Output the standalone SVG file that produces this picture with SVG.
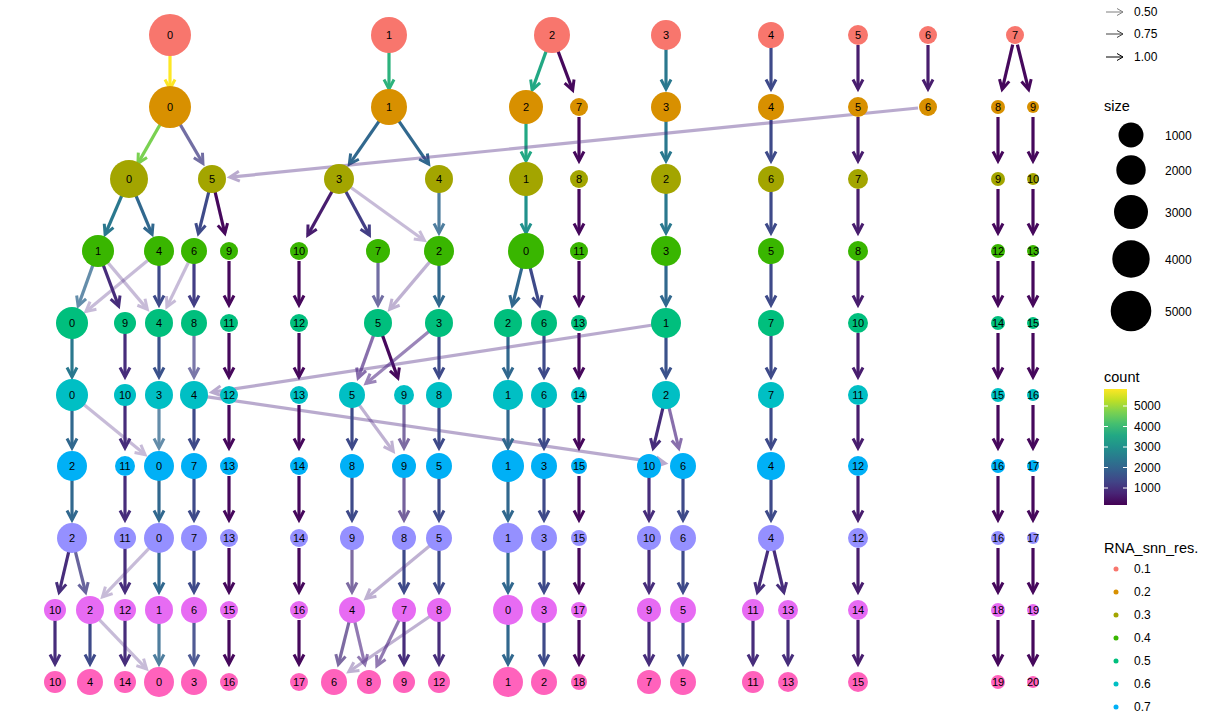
<svg xmlns="http://www.w3.org/2000/svg" width="1209" height="721" viewBox="0 0 1209 721">
<style>
text{font-family:"Liberation Sans",Arial,sans-serif;fill:#000}
.nl{font-size:11px;text-anchor:middle}
.lg{font-size:12px}
.lt{font-size:14.5px}
line{stroke-width:3.2;fill:none}
.a{stroke:#FDE725;marker-end:url(#ma)}
.b{stroke:#7AD151;marker-end:url(#mb)}
.c{stroke:#2DB27D;marker-end:url(#mc)}
.d{stroke:#22A884;marker-end:url(#md)}
.f{stroke:#21918C;marker-end:url(#mf)}
.g{stroke:#2A788E;marker-end:url(#mg)}
.h{stroke:#31688E;marker-end:url(#mh)}
.i{stroke:#3B528B;marker-end:url(#mi)}
.j{stroke:#3E4A89;marker-end:url(#mj)}
.k{stroke:#433E85;marker-end:url(#mk)}
.l{stroke:#472D7B;marker-end:url(#ml)}
.q{stroke:#4A2380;marker-end:url(#mq)}
.n{stroke:#481D6E;marker-end:url(#mn)}
.o{stroke:#46085C;marker-end:url(#mo)}
.r1{fill:#F8766D}.r2{fill:#D89000}.r3{fill:#A3A500}.r4{fill:#39B600}.r5{fill:#00BF7D}
.r6{fill:#00BFC4}.r7{fill:#00B0F6}.r8{fill:#9590FF}.r9{fill:#E76BF3}.r10{fill:#FF62BC}
</style>
<defs>
<marker id="ma" viewBox="-11 -8 16 16" markerWidth="16" markerHeight="16" markerUnits="userSpaceOnUse" orient="auto" refX="0" refY="0" overflow="visible"><path d="M-9,-5 L0.5,0 L-9,5" fill="none" stroke="#FDE725" stroke-width="3"/></marker>
<marker id="mb" viewBox="-11 -8 16 16" markerWidth="16" markerHeight="16" markerUnits="userSpaceOnUse" orient="auto" refX="0" refY="0" overflow="visible"><path d="M-9,-5 L0.5,0 L-9,5" fill="none" stroke="#7AD151" stroke-width="3"/></marker>
<marker id="mc" viewBox="-11 -8 16 16" markerWidth="16" markerHeight="16" markerUnits="userSpaceOnUse" orient="auto" refX="0" refY="0" overflow="visible"><path d="M-9,-5 L0.5,0 L-9,5" fill="none" stroke="#2DB27D" stroke-width="3"/></marker>
<marker id="md" viewBox="-11 -8 16 16" markerWidth="16" markerHeight="16" markerUnits="userSpaceOnUse" orient="auto" refX="0" refY="0" overflow="visible"><path d="M-9,-5 L0.5,0 L-9,5" fill="none" stroke="#22A884" stroke-width="3"/></marker>
<marker id="mf" viewBox="-11 -8 16 16" markerWidth="16" markerHeight="16" markerUnits="userSpaceOnUse" orient="auto" refX="0" refY="0" overflow="visible"><path d="M-9,-5 L0.5,0 L-9,5" fill="none" stroke="#21918C" stroke-width="3"/></marker>
<marker id="mg" viewBox="-11 -8 16 16" markerWidth="16" markerHeight="16" markerUnits="userSpaceOnUse" orient="auto" refX="0" refY="0" overflow="visible"><path d="M-9,-5 L0.5,0 L-9,5" fill="none" stroke="#2A788E" stroke-width="3"/></marker>
<marker id="mh" viewBox="-11 -8 16 16" markerWidth="16" markerHeight="16" markerUnits="userSpaceOnUse" orient="auto" refX="0" refY="0" overflow="visible"><path d="M-9,-5 L0.5,0 L-9,5" fill="none" stroke="#31688E" stroke-width="3"/></marker>
<marker id="mi" viewBox="-11 -8 16 16" markerWidth="16" markerHeight="16" markerUnits="userSpaceOnUse" orient="auto" refX="0" refY="0" overflow="visible"><path d="M-9,-5 L0.5,0 L-9,5" fill="none" stroke="#3B528B" stroke-width="3"/></marker>
<marker id="mj" viewBox="-11 -8 16 16" markerWidth="16" markerHeight="16" markerUnits="userSpaceOnUse" orient="auto" refX="0" refY="0" overflow="visible"><path d="M-9,-5 L0.5,0 L-9,5" fill="none" stroke="#3E4A89" stroke-width="3"/></marker>
<marker id="mk" viewBox="-11 -8 16 16" markerWidth="16" markerHeight="16" markerUnits="userSpaceOnUse" orient="auto" refX="0" refY="0" overflow="visible"><path d="M-9,-5 L0.5,0 L-9,5" fill="none" stroke="#433E85" stroke-width="3"/></marker>
<marker id="ml" viewBox="-11 -8 16 16" markerWidth="16" markerHeight="16" markerUnits="userSpaceOnUse" orient="auto" refX="0" refY="0" overflow="visible"><path d="M-9,-5 L0.5,0 L-9,5" fill="none" stroke="#472D7B" stroke-width="3"/></marker>
<marker id="mq" viewBox="-11 -8 16 16" markerWidth="16" markerHeight="16" markerUnits="userSpaceOnUse" orient="auto" refX="0" refY="0" overflow="visible"><path d="M-9,-5 L0.5,0 L-9,5" fill="none" stroke="#4A2380" stroke-width="3"/></marker>
<marker id="mn" viewBox="-11 -8 16 16" markerWidth="16" markerHeight="16" markerUnits="userSpaceOnUse" orient="auto" refX="0" refY="0" overflow="visible"><path d="M-9,-5 L0.5,0 L-9,5" fill="none" stroke="#481D6E" stroke-width="3"/></marker>
<marker id="mo" viewBox="-11 -8 16 16" markerWidth="16" markerHeight="16" markerUnits="userSpaceOnUse" orient="auto" refX="0" refY="0" overflow="visible"><path d="M-9,-5 L0.5,0 L-9,5" fill="none" stroke="#46085C" stroke-width="3"/></marker>
<linearGradient id="vir" x1="0" y1="1" x2="0" y2="0">
<stop offset="0" stop-color="#440154"/><stop offset="0.1" stop-color="#482475"/><stop offset="0.2" stop-color="#414487"/><stop offset="0.3" stop-color="#355F8D"/><stop offset="0.4" stop-color="#2A788E"/><stop offset="0.5" stop-color="#21918C"/><stop offset="0.6" stop-color="#22A884"/><stop offset="0.7" stop-color="#44BF70"/><stop offset="0.8" stop-color="#7AD151"/><stop offset="0.9" stop-color="#BDDF26"/><stop offset="1" stop-color="#FDE725"/>
</linearGradient>
</defs>
<rect width="1209" height="721" fill="#fff"/>
<g id="edges">
<!-- 0.1 -> 0.2 -->
<line class="a" x1="170" y1="45" x2="170" y2="88.5"/>
<line class="c" x1="389" y1="45" x2="389" y2="88.5"/>
<line class="d" x1="548.6" y1="44.4" x2="532.3" y2="89.6"/>
<line class="o" x1="555.5" y1="44.4" x2="572.5" y2="89.7"/>
<line class="g" x1="666" y1="45" x2="666" y2="88.5"/>
<line class="j" x1="771" y1="45" x2="771" y2="88.5"/>
<line class="n" x1="858" y1="45" x2="858" y2="88.5"/>
<line class="n" x1="928" y1="45" x2="928" y2="88.5"/>
<line class="o" x1="1012.7" y1="44.7" x2="1002.3" y2="89"/>
<line class="o" x1="1017.4" y1="44.7" x2="1028.5" y2="89.1"/>
<!-- 0.2 -> 0.3 -->
<line class="b" x1="165.1" y1="115.7" x2="138.2" y2="162.9"/>
<g opacity="0.75"><line class="k" x1="175" y1="115.6" x2="202.7" y2="163"/></g>
<line class="h" x1="383.3" y1="115.2" x2="349.6" y2="163.8"/>
<line class="h" x1="394.7" y1="115.2" x2="428.4" y2="163.8"/>
<line class="d" x1="526" y1="117" x2="526" y2="160.5"/>
<line class="o" x1="579" y1="117" x2="579" y2="160.5"/>
<line class="g" x1="666" y1="117" x2="666" y2="160.5"/>
<line class="j" x1="771" y1="117" x2="771" y2="160.5"/>
<line class="n" x1="858" y1="117" x2="858" y2="160.5"/>
<g opacity="0.38"><line class="q" x1="918" y1="108" x2="230.4" y2="177.1"/></g>
<line class="o" x1="998" y1="117" x2="998" y2="160.5"/>
<line class="o" x1="1033" y1="117" x2="1033" y2="160.5"/>
<!-- 0.3 -> 0.4 -->
<line class="g" x1="125" y1="188.2" x2="105.3" y2="234"/>
<line class="h" x1="132.8" y1="188.2" x2="151.9" y2="233.9"/>
<line class="j" x1="209.6" y1="188.7" x2="198.5" y2="233.1"/>
<line class="o" x1="214.3" y1="188.7" x2="224.75" y2="233"/>
<line class="n" x1="334.1" y1="187.7" x2="308" y2="234.8"/>
<line class="k" x1="343.8" y1="187.8" x2="369.2" y2="234.7"/>
<g opacity="0.3"><line class="q" x1="347.1" y1="184.8" x2="424" y2="240.2"/></g>
<g opacity="0.85"><line class="h" x1="439" y1="189" x2="439" y2="232.5"/></g>
<line class="f" x1="526" y1="189" x2="526" y2="232.5"/>
<line class="o" x1="579" y1="189" x2="579" y2="232.5"/>
<line class="g" x1="666" y1="189" x2="666" y2="232.5"/>
<line class="j" x1="771" y1="189" x2="771" y2="232.5"/>
<line class="n" x1="858" y1="189" x2="858" y2="232.5"/>
<line class="o" x1="998" y1="189" x2="998" y2="232.5"/>
<line class="o" x1="1033" y1="189" x2="1033" y2="232.5"/>
<!-- 0.4 -> 0.5 -->
<g opacity="0.75"><line class="h" x1="94.6" y1="260.4" x2="78.3" y2="305.6"/></g>
<line class="l" x1="101.5" y1="260.4" x2="118.5" y2="305.7"/>
<g opacity="0.3"><line class="q" x1="104.5" y1="258.6" x2="147" y2="308.9"/></g>
<g opacity="0.3"><line class="q" x1="151.3" y1="257.4" x2="86.3" y2="311.2"/></g>
<line class="j" x1="159" y1="261" x2="159" y2="304.5"/>
<g opacity="0.3"><line class="q" x1="189.6" y1="260" x2="167.1" y2="306.4"/></g>
<line class="k" x1="194" y1="261" x2="194" y2="304.5"/>
<line class="o" x1="229" y1="261" x2="229" y2="304.5"/>
<line class="o" x1="299" y1="261" x2="299" y2="304.5"/>
<g opacity="0.75"><line class="k" x1="378" y1="261" x2="378" y2="304.5"/></g>
<g opacity="0.35"><line class="q" x1="432.5" y1="258.6" x2="390" y2="308.9"/></g>
<line class="h" x1="439" y1="261" x2="439" y2="304.5"/>
<line class="h" x1="523.6" y1="260.7" x2="512.5" y2="305.1"/>
<line class="j" x1="528.4" y1="260.7" x2="539.5" y2="305.1"/>
<line class="o" x1="579" y1="261" x2="579" y2="304.5"/>
<line class="h" x1="666" y1="261" x2="666" y2="304.5"/>
<line class="j" x1="771" y1="261" x2="771" y2="304.5"/>
<line class="n" x1="858" y1="261" x2="858" y2="304.5"/>
<line class="o" x1="998" y1="261" x2="998" y2="304.5"/>
<line class="o" x1="1033" y1="261" x2="1033" y2="304.5"/>
<!-- 0.5 -> 0.6 -->
<line class="g" x1="72" y1="333" x2="72" y2="376.5"/>
<line class="l" x1="125" y1="333" x2="125" y2="376.5"/>
<line class="i" x1="159" y1="333" x2="159" y2="376.5"/>
<g opacity="0.7"><line class="k" x1="194" y1="333" x2="194" y2="376.5"/></g>
<line class="o" x1="229" y1="333" x2="229" y2="376.5"/>
<line class="o" x1="299" y1="333" x2="299" y2="376.5"/>
<g opacity="0.65"><line class="q" x1="374.6" y1="332.4" x2="358.3" y2="377.6"/></g>
<line class="o" x1="381.4" y1="332.4" x2="397.7" y2="377.6"/>
<g opacity="0.55"><line class="q" x1="431.3" y1="329.4" x2="366.3" y2="383.2"/></g>
<line class="j" x1="439" y1="333" x2="439" y2="376.5"/>
<line class="h" x1="508" y1="333" x2="508" y2="376.5"/>
<line class="j" x1="544" y1="333" x2="544" y2="376.5"/>
<line class="o" x1="579" y1="333" x2="579" y2="376.5"/>
<g opacity="0.38"><line class="q" x1="656.1" y1="324.5" x2="212.3" y2="392.2"/></g>
<line class="i" x1="666" y1="333" x2="666" y2="376.5"/>
<line class="j" x1="771" y1="333" x2="771" y2="376.5"/>
<line class="n" x1="858" y1="333" x2="858" y2="376.5"/>
<line class="o" x1="998" y1="333" x2="998" y2="376.5"/>
<line class="o" x1="1033" y1="333" x2="1033" y2="376.5"/>
<!-- 0.6 -> 0.7 -->
<line class="h" x1="72" y1="405" x2="72" y2="447.5"/>
<g opacity="0.3"><line class="q" x1="79.8" y1="401.3" x2="144.7" y2="454.3"/></g>
<line class="l" x1="125" y1="405" x2="125" y2="447.5"/>
<g opacity="0.75"><line class="h" x1="159" y1="405" x2="159" y2="447.5"/></g>
<line class="j" x1="194" y1="405" x2="194" y2="447.5"/>
<g opacity="0.38"><line class="q" x1="203.9" y1="396.4" x2="664.7" y2="463.3"/></g>
<line class="o" x1="229" y1="405" x2="229" y2="447.5"/>
<line class="o" x1="299" y1="405" x2="299" y2="447.5"/>
<line class="j" x1="352" y1="405" x2="352" y2="447.5"/>
<g opacity="0.35"><line class="q" x1="357.9" y1="403.1" x2="393" y2="451"/></g>
<g opacity="0.7"><line class="l" x1="404" y1="405" x2="404" y2="447.5"/></g>
<line class="j" x1="439" y1="405" x2="439" y2="447.5"/>
<line class="h" x1="508" y1="405" x2="508" y2="447.5"/>
<line class="j" x1="544" y1="405" x2="544" y2="447.5"/>
<line class="o" x1="579" y1="405" x2="579" y2="447.5"/>
<line class="l" x1="663.7" y1="404.7" x2="653.3" y2="448"/>
<g opacity="0.65"><line class="q" x1="668.3" y1="404.7" x2="678.7" y2="448"/></g>
<line class="j" x1="771" y1="405" x2="771" y2="447.5"/>
<line class="n" x1="858" y1="405" x2="858" y2="447.5"/>
<line class="o" x1="998" y1="405" x2="998" y2="447.5"/>
<line class="o" x1="1033" y1="405" x2="1033" y2="447.5"/>
<!-- 0.7 -> 0.8 -->
<line class="h" x1="72" y1="476" x2="72" y2="519.5"/>
<line class="l" x1="125" y1="476" x2="125" y2="519.5"/>
<line class="h" x1="159" y1="476" x2="159" y2="519.5"/>
<line class="j" x1="194" y1="476" x2="194" y2="519.5"/>
<line class="o" x1="229" y1="476" x2="229" y2="519.5"/>
<line class="o" x1="299" y1="476" x2="299" y2="519.5"/>
<line class="j" x1="352" y1="476" x2="352" y2="519.5"/>
<g opacity="0.75"><line class="l" x1="404" y1="476" x2="404" y2="519.5"/></g>
<line class="j" x1="439" y1="476" x2="439" y2="519.5"/>
<line class="h" x1="508" y1="476" x2="508" y2="519.5"/>
<line class="j" x1="544" y1="476" x2="544" y2="519.5"/>
<line class="o" x1="579" y1="476" x2="579" y2="519.5"/>
<line class="l" x1="649" y1="476" x2="649" y2="519.5"/>
<line class="j" x1="683" y1="476" x2="683" y2="519.5"/>
<line class="j" x1="771" y1="476" x2="771" y2="519.5"/>
<line class="n" x1="858" y1="476" x2="858" y2="519.5"/>
<line class="o" x1="998" y1="476" x2="998" y2="519.5"/>
<line class="o" x1="1033" y1="476" x2="1033" y2="519.5"/>
<!-- 0.8 -> 0.9 -->
<line class="l" x1="69.7" y1="547.7" x2="59.25" y2="592"/>
<g opacity="0.8"><line class="k" x1="74.4" y1="547.7" x2="85.5" y2="592"/></g>
<line class="l" x1="125" y1="548" x2="125" y2="591.5"/>
<g opacity="0.3"><line class="q" x1="152.1" y1="545.2" x2="102.8" y2="596.6"/></g>
<line class="h" x1="159" y1="548" x2="159" y2="591.5"/>
<line class="j" x1="194" y1="548" x2="194" y2="591.5"/>
<line class="o" x1="229" y1="548" x2="229" y2="591.5"/>
<line class="o" x1="299" y1="548" x2="299" y2="591.5"/>
<g opacity="0.7"><line class="l" x1="352" y1="548" x2="352" y2="591.5"/></g>
<line class="j" x1="404" y1="548" x2="404" y2="591.5"/>
<g opacity="0.35"><line class="q" x1="431.3" y1="544.4" x2="366.3" y2="598.2"/></g>
<line class="j" x1="439" y1="548" x2="439" y2="591.5"/>
<line class="h" x1="508" y1="548" x2="508" y2="591.5"/>
<line class="j" x1="544" y1="548" x2="544" y2="591.5"/>
<line class="o" x1="579" y1="548" x2="579" y2="591.5"/>
<line class="l" x1="649" y1="548" x2="649" y2="591.5"/>
<line class="j" x1="683" y1="548" x2="683" y2="591.5"/>
<line class="l" x1="768.6" y1="547.7" x2="757.5" y2="592"/>
<line class="l" x1="773.3" y1="547.7" x2="783.75" y2="592"/>
<line class="n" x1="858" y1="548" x2="858" y2="591.5"/>
<line class="o" x1="998" y1="548" x2="998" y2="591.5"/>
<line class="o" x1="1033" y1="548" x2="1033" y2="591.5"/>
<!-- 0.9 -> 1.0 -->
<line class="l" x1="55" y1="620" x2="55" y2="663.5"/>
<line class="j" x1="90" y1="620" x2="90" y2="663.5"/>
<line class="l" x1="125" y1="620" x2="125" y2="663.5"/>
<g opacity="0.3"><line class="q" x1="96.9" y1="617.2" x2="146.2" y2="668.6"/></g>
<g opacity="0.85"><line class="h" x1="159" y1="620" x2="159" y2="663.5"/></g>
<g opacity="0.9"><line class="j" x1="194" y1="620" x2="194" y2="663.5"/></g>
<line class="o" x1="229" y1="620" x2="229" y2="663.5"/>
<line class="o" x1="299" y1="620" x2="299" y2="663.5"/>
<g opacity="0.7"><line class="l" x1="349.6" y1="619.7" x2="338.5" y2="664"/></g>
<g opacity="0.6"><line class="q" x1="354.3" y1="619.7" x2="364.75" y2="664"/></g>
<g opacity="0.6"><line class="q" x1="399.6" y1="619" x2="377.1" y2="665.4"/></g>
<line class="l" x1="404" y1="620" x2="404" y2="663.5"/>
<g opacity="0.35"><line class="q" x1="430.8" y1="615.7" x2="349.2" y2="671.5"/></g>
<line class="l" x1="439" y1="620" x2="439" y2="663.5"/>
<line class="h" x1="508" y1="620" x2="508" y2="663.5"/>
<line class="j" x1="544" y1="620" x2="544" y2="663.5"/>
<line class="o" x1="579" y1="620" x2="579" y2="663.5"/>
<line class="l" x1="649" y1="620" x2="649" y2="663.5"/>
<line class="j" x1="683" y1="620" x2="683" y2="663.5"/>
<line class="l" x1="753" y1="620" x2="753" y2="663.5"/>
<line class="l" x1="788" y1="620" x2="788" y2="663.5"/>
<line class="n" x1="858" y1="620" x2="858" y2="663.5"/>
<line class="o" x1="998" y1="620" x2="998" y2="663.5"/>
<line class="o" x1="1033" y1="620" x2="1033" y2="663.5"/>
</g>
<g id="nodes">
<!-- res 0.1 -->
<g id="r1c0"><circle class="r1" cx="170" cy="35" r="21"/><text class="nl" x="170" y="39">0</text></g>
<g id="r1c1"><circle class="r1" cx="389" cy="35" r="18"/><text class="nl" x="389" y="39">1</text></g>
<g id="r1c2"><circle class="r1" cx="552" cy="35" r="18"/><text class="nl" x="552" y="39">2</text></g>
<g id="r1c3"><circle class="r1" cx="666" cy="35" r="15"/><text class="nl" x="666" y="39">3</text></g>
<g id="r1c4"><circle class="r1" cx="771" cy="35" r="13"/><text class="nl" x="771" y="39">4</text></g>
<g id="r1c5"><circle class="r1" cx="858" cy="35" r="10"/><text class="nl" x="858" y="39">5</text></g>
<g id="r1c6"><circle class="r1" cx="928" cy="35" r="9"/><text class="nl" x="928" y="39">6</text></g>
<g id="r1c7"><circle class="r1" cx="1015" cy="35" r="9"/><text class="nl" x="1015" y="39">7</text></g>
<!-- res 0.2 -->
<g id="r2c0"><circle class="r2" cx="170" cy="107" r="21"/><text class="nl" x="170" y="111">0</text></g>
<g id="r2c1"><circle class="r2" cx="389" cy="107" r="18"/><text class="nl" x="389" y="111">1</text></g>
<g id="r2c2"><circle class="r2" cx="526" cy="107" r="17"/><text class="nl" x="526" y="111">2</text></g>
<g id="r2c7"><circle class="r2" cx="579" cy="107" r="9"/><text class="nl" x="579" y="111">7</text></g>
<g id="r2c3"><circle class="r2" cx="666" cy="107" r="15"/><text class="nl" x="666" y="111">3</text></g>
<g id="r2c4"><circle class="r2" cx="771" cy="107" r="13"/><text class="nl" x="771" y="111">4</text></g>
<g id="r2c5"><circle class="r2" cx="858" cy="107" r="10"/><text class="nl" x="858" y="111">5</text></g>
<g id="r2c6"><circle class="r2" cx="928" cy="107" r="9"/><text class="nl" x="928" y="111">6</text></g>
<g id="r2c8"><circle class="r2" cx="998" cy="107" r="7"/><text class="nl" x="998" y="111">8</text></g>
<g id="r2c9"><circle class="r2" cx="1033" cy="107" r="6"/><text class="nl" x="1033" y="111">9</text></g>
<!-- res 0.3 -->
<g id="r3c0"><circle class="r3" cx="129" cy="179" r="19"/><text class="nl" x="129" y="183">0</text></g>
<g id="r3c5"><circle class="r3" cx="212" cy="179" r="14"/><text class="nl" x="212" y="183">5</text></g>
<g id="r3c3"><circle class="r3" cx="339" cy="179" r="15"/><text class="nl" x="339" y="183">3</text></g>
<g id="r3c4"><circle class="r3" cx="439" cy="179" r="14"/><text class="nl" x="439" y="183">4</text></g>
<g id="r3c1"><circle class="r3" cx="526" cy="179" r="17"/><text class="nl" x="526" y="183">1</text></g>
<g id="r3c8"><circle class="r3" cx="579" cy="179" r="9"/><text class="nl" x="579" y="183">8</text></g>
<g id="r3c2"><circle class="r3" cx="666" cy="179" r="15"/><text class="nl" x="666" y="183">2</text></g>
<g id="r3c6"><circle class="r3" cx="771" cy="179" r="13"/><text class="nl" x="771" y="183">6</text></g>
<g id="r3c7"><circle class="r3" cx="858" cy="179" r="10"/><text class="nl" x="858" y="183">7</text></g>
<g id="r3c9"><circle class="r3" cx="998" cy="179" r="7"/><text class="nl" x="998" y="183">9</text></g>
<g id="r3c10"><circle class="r3" cx="1033" cy="179" r="6"/><text class="nl" x="1033" y="183">10</text></g>
<!-- res 0.4 -->
<g id="r4c1"><circle class="r4" cx="98" cy="251" r="16"/><text class="nl" x="98" y="255">1</text></g>
<g id="r4c4"><circle class="r4" cx="159" cy="251" r="15"/><text class="nl" x="159" y="255">4</text></g>
<g id="r4c6"><circle class="r4" cx="194" cy="251" r="13"/><text class="nl" x="194" y="255">6</text></g>
<g id="r4c9"><circle class="r4" cx="229" cy="251" r="9"/><text class="nl" x="229" y="255">9</text></g>
<g id="r4c10"><circle class="r4" cx="299" cy="251" r="9"/><text class="nl" x="299" y="255">10</text></g>
<g id="r4c7"><circle class="r4" cx="378" cy="251" r="12"/><text class="nl" x="378" y="255">7</text></g>
<g id="r4c2"><circle class="r4" cx="439" cy="251" r="15"/><text class="nl" x="439" y="255">2</text></g>
<g id="r4c0"><circle class="r4" cx="526" cy="251" r="18"/><text class="nl" x="526" y="255">0</text></g>
<g id="r4c11"><circle class="r4" cx="579" cy="251" r="9"/><text class="nl" x="579" y="255">11</text></g>
<g id="r4c3"><circle class="r4" cx="666" cy="251" r="15"/><text class="nl" x="666" y="255">3</text></g>
<g id="r4c5"><circle class="r4" cx="771" cy="251" r="13"/><text class="nl" x="771" y="255">5</text></g>
<g id="r4c8"><circle class="r4" cx="858" cy="251" r="10"/><text class="nl" x="858" y="255">8</text></g>
<g id="r4c12"><circle class="r4" cx="998" cy="251" r="7"/><text class="nl" x="998" y="255">12</text></g>
<g id="r4c13"><circle class="r4" cx="1033" cy="251" r="6"/><text class="nl" x="1033" y="255">13</text></g>
<!-- res 0.5 -->
<g id="r5c0"><circle class="r5" cx="72" cy="323" r="16"/><text class="nl" x="72" y="327">0</text></g>
<g id="r5c9"><circle class="r5" cx="125" cy="323" r="11"/><text class="nl" x="125" y="327">9</text></g>
<g id="r5c4"><circle class="r5" cx="159" cy="323" r="14"/><text class="nl" x="159" y="327">4</text></g>
<g id="r5c8"><circle class="r5" cx="194" cy="323" r="13"/><text class="nl" x="194" y="327">8</text></g>
<g id="r5c11"><circle class="r5" cx="229" cy="323" r="9"/><text class="nl" x="229" y="327">11</text></g>
<g id="r5c12"><circle class="r5" cx="299" cy="323" r="9"/><text class="nl" x="299" y="327">12</text></g>
<g id="r5c5"><circle class="r5" cx="378" cy="323" r="14"/><text class="nl" x="378" y="327">5</text></g>
<g id="r5c3"><circle class="r5" cx="439" cy="323" r="14"/><text class="nl" x="439" y="327">3</text></g>
<g id="r5c2"><circle class="r5" cx="508" cy="323" r="14"/><text class="nl" x="508" y="327">2</text></g>
<g id="r5c6"><circle class="r5" cx="544" cy="323" r="13"/><text class="nl" x="544" y="327">6</text></g>
<g id="r5c13"><circle class="r5" cx="579" cy="323" r="8"/><text class="nl" x="579" y="327">13</text></g>
<g id="r5c1"><circle class="r5" cx="666" cy="323" r="15"/><text class="nl" x="666" y="327">1</text></g>
<g id="r5c7"><circle class="r5" cx="771" cy="323" r="13"/><text class="nl" x="771" y="327">7</text></g>
<g id="r5c10"><circle class="r5" cx="858" cy="323" r="10"/><text class="nl" x="858" y="327">10</text></g>
<g id="r5c14"><circle class="r5" cx="998" cy="323" r="7"/><text class="nl" x="998" y="327">14</text></g>
<g id="r5c15"><circle class="r5" cx="1033" cy="323" r="6"/><text class="nl" x="1033" y="327">15</text></g>
<!-- res 0.6 -->
<g id="r6c0"><circle class="r6" cx="72" cy="395" r="16"/><text class="nl" x="72" y="399">0</text></g>
<g id="r6c10"><circle class="r6" cx="125" cy="395" r="11"/><text class="nl" x="125" y="399">10</text></g>
<g id="r6c3"><circle class="r6" cx="159" cy="395" r="14"/><text class="nl" x="159" y="399">3</text></g>
<g id="r6c4"><circle class="r6" cx="194" cy="395" r="14"/><text class="nl" x="194" y="399">4</text></g>
<g id="r6c12"><circle class="r6" cx="229" cy="395" r="9"/><text class="nl" x="229" y="399">12</text></g>
<g id="r6c13"><circle class="r6" cx="299" cy="395" r="9"/><text class="nl" x="299" y="399">13</text></g>
<g id="r6c5"><circle class="r6" cx="352" cy="395" r="13"/><text class="nl" x="352" y="399">5</text></g>
<g id="r6c9"><circle class="r6" cx="404" cy="395" r="10"/><text class="nl" x="404" y="399">9</text></g>
<g id="r6c8"><circle class="r6" cx="439" cy="395" r="13"/><text class="nl" x="439" y="399">8</text></g>
<g id="r6c1"><circle class="r6" cx="508" cy="395" r="15"/><text class="nl" x="508" y="399">1</text></g>
<g id="r6c6"><circle class="r6" cx="544" cy="395" r="13"/><text class="nl" x="544" y="399">6</text></g>
<g id="r6c14"><circle class="r6" cx="579" cy="395" r="8"/><text class="nl" x="579" y="399">14</text></g>
<g id="r6c2"><circle class="r6" cx="666" cy="395" r="14"/><text class="nl" x="666" y="399">2</text></g>
<g id="r6c7"><circle class="r6" cx="771" cy="395" r="13"/><text class="nl" x="771" y="399">7</text></g>
<g id="r6c11"><circle class="r6" cx="858" cy="395" r="10"/><text class="nl" x="858" y="399">11</text></g>
<g id="r6c15"><circle class="r6" cx="998" cy="395" r="7"/><text class="nl" x="998" y="399">15</text></g>
<g id="r6c16"><circle class="r6" cx="1033" cy="395" r="6"/><text class="nl" x="1033" y="399">16</text></g>
<!-- res 0.7 -->
<g id="r7c2"><circle class="r7" cx="72" cy="466" r="15"/><text class="nl" x="72" y="470">2</text></g>
<g id="r7c11"><circle class="r7" cx="125" cy="466" r="10"/><text class="nl" x="125" y="470">11</text></g>
<g id="r7c0"><circle class="r7" cx="159" cy="466" r="15"/><text class="nl" x="159" y="470">0</text></g>
<g id="r7c7"><circle class="r7" cx="194" cy="466" r="13"/><text class="nl" x="194" y="470">7</text></g>
<g id="r7c13"><circle class="r7" cx="229" cy="466" r="9"/><text class="nl" x="229" y="470">13</text></g>
<g id="r7c14"><circle class="r7" cx="299" cy="466" r="9"/><text class="nl" x="299" y="470">14</text></g>
<g id="r7c8"><circle class="r7" cx="352" cy="466" r="12"/><text class="nl" x="352" y="470">8</text></g>
<g id="r7c9"><circle class="r7" cx="404" cy="466" r="12"/><text class="nl" x="404" y="470">9</text></g>
<g id="r7c5"><circle class="r7" cx="439" cy="466" r="13"/><text class="nl" x="439" y="470">5</text></g>
<g id="r7c1"><circle class="r7" cx="508" cy="466" r="16"/><text class="nl" x="508" y="470">1</text></g>
<g id="r7c3"><circle class="r7" cx="544" cy="466" r="13"/><text class="nl" x="544" y="470">3</text></g>
<g id="r7c15"><circle class="r7" cx="579" cy="466" r="8"/><text class="nl" x="579" y="470">15</text></g>
<g id="r7c10"><circle class="r7" cx="649" cy="466" r="12"/><text class="nl" x="649" y="470">10</text></g>
<g id="r7c6"><circle class="r7" cx="683" cy="466" r="13"/><text class="nl" x="683" y="470">6</text></g>
<g id="r7c4"><circle class="r7" cx="771" cy="466" r="14"/><text class="nl" x="771" y="470">4</text></g>
<g id="r7c12"><circle class="r7" cx="858" cy="466" r="10"/><text class="nl" x="858" y="470">12</text></g>
<g id="r7c16"><circle class="r7" cx="998" cy="466" r="7"/><text class="nl" x="998" y="470">16</text></g>
<g id="r7c17"><circle class="r7" cx="1033" cy="466" r="6"/><text class="nl" x="1033" y="470">17</text></g>
<!-- res 0.8 -->
<g id="r8c2"><circle class="r8" cx="72" cy="538" r="15"/><text class="nl" x="72" y="542">2</text></g>
<g id="r8c11"><circle class="r8" cx="125" cy="538" r="11"/><text class="nl" x="125" y="542">11</text></g>
<g id="r8c0"><circle class="r8" cx="159" cy="538" r="15"/><text class="nl" x="159" y="542">0</text></g>
<g id="r8c7"><circle class="r8" cx="194" cy="538" r="13"/><text class="nl" x="194" y="542">7</text></g>
<g id="r8c13"><circle class="r8" cx="229" cy="538" r="9"/><text class="nl" x="229" y="542">13</text></g>
<g id="r8c14"><circle class="r8" cx="299" cy="538" r="9"/><text class="nl" x="299" y="542">14</text></g>
<g id="r8c9"><circle class="r8" cx="352" cy="538" r="12"/><text class="nl" x="352" y="542">9</text></g>
<g id="r8c8"><circle class="r8" cx="404" cy="538" r="12"/><text class="nl" x="404" y="542">8</text></g>
<g id="r8c5"><circle class="r8" cx="439" cy="538" r="13"/><text class="nl" x="439" y="542">5</text></g>
<g id="r8c1"><circle class="r8" cx="508" cy="538" r="15"/><text class="nl" x="508" y="542">1</text></g>
<g id="r8c3"><circle class="r8" cx="544" cy="538" r="13"/><text class="nl" x="544" y="542">3</text></g>
<g id="r8c15"><circle class="r8" cx="579" cy="538" r="8"/><text class="nl" x="579" y="542">15</text></g>
<g id="r8c10"><circle class="r8" cx="649" cy="538" r="12"/><text class="nl" x="649" y="542">10</text></g>
<g id="r8c6"><circle class="r8" cx="683" cy="538" r="13"/><text class="nl" x="683" y="542">6</text></g>
<g id="r8c4"><circle class="r8" cx="771" cy="538" r="13"/><text class="nl" x="771" y="542">4</text></g>
<g id="r8c12"><circle class="r8" cx="858" cy="538" r="10"/><text class="nl" x="858" y="542">12</text></g>
<g id="r8c16"><circle class="r8" cx="998" cy="538" r="7"/><text class="nl" x="998" y="542">16</text></g>
<g id="r8c17"><circle class="r8" cx="1033" cy="538" r="6"/><text class="nl" x="1033" y="542">17</text></g>
<!-- res 0.9 -->
<g id="r9c10"><circle class="r9" cx="55" cy="610" r="11"/><text class="nl" x="55" y="614">10</text></g>
<g id="r9c2"><circle class="r9" cx="90" cy="610" r="14"/><text class="nl" x="90" y="614">2</text></g>
<g id="r9c12"><circle class="r9" cx="125" cy="610" r="11"/><text class="nl" x="125" y="614">12</text></g>
<g id="r9c1"><circle class="r9" cx="159" cy="610" r="14"/><text class="nl" x="159" y="614">1</text></g>
<g id="r9c6"><circle class="r9" cx="194" cy="610" r="13"/><text class="nl" x="194" y="614">6</text></g>
<g id="r9c15"><circle class="r9" cx="229" cy="610" r="9"/><text class="nl" x="229" y="614">15</text></g>
<g id="r9c16"><circle class="r9" cx="299" cy="610" r="9"/><text class="nl" x="299" y="614">16</text></g>
<g id="r9c4"><circle class="r9" cx="352" cy="610" r="13"/><text class="nl" x="352" y="614">4</text></g>
<g id="r9c7"><circle class="r9" cx="404" cy="610" r="12"/><text class="nl" x="404" y="614">7</text></g>
<g id="r9c8"><circle class="r9" cx="439" cy="610" r="12"/><text class="nl" x="439" y="614">8</text></g>
<g id="r9c0"><circle class="r9" cx="508" cy="610" r="15"/><text class="nl" x="508" y="614">0</text></g>
<g id="r9c3"><circle class="r9" cx="544" cy="610" r="13"/><text class="nl" x="544" y="614">3</text></g>
<g id="r9c17"><circle class="r9" cx="579" cy="610" r="8"/><text class="nl" x="579" y="614">17</text></g>
<g id="r9c9"><circle class="r9" cx="649" cy="610" r="12"/><text class="nl" x="649" y="614">9</text></g>
<g id="r9c5"><circle class="r9" cx="683" cy="610" r="13"/><text class="nl" x="683" y="614">5</text></g>
<g id="r9c11"><circle class="r9" cx="753" cy="610" r="11"/><text class="nl" x="753" y="614">11</text></g>
<g id="r9c13"><circle class="r9" cx="788" cy="610" r="10"/><text class="nl" x="788" y="614">13</text></g>
<g id="r9c14"><circle class="r9" cx="858" cy="610" r="10"/><text class="nl" x="858" y="614">14</text></g>
<g id="r9c18"><circle class="r9" cx="998" cy="610" r="7"/><text class="nl" x="998" y="614">18</text></g>
<g id="r9c19"><circle class="r9" cx="1033" cy="610" r="6"/><text class="nl" x="1033" y="614">19</text></g>
<!-- res 1.0 -->
<g id="r10c10"><circle class="r10" cx="55" cy="682" r="11"/><text class="nl" x="55" y="686">10</text></g>
<g id="r10c4"><circle class="r10" cx="90" cy="682" r="13"/><text class="nl" x="90" y="686">4</text></g>
<g id="r10c14"><circle class="r10" cx="125" cy="682" r="11"/><text class="nl" x="125" y="686">14</text></g>
<g id="r10c0"><circle class="r10" cx="159" cy="682" r="15"/><text class="nl" x="159" y="686">0</text></g>
<g id="r10c3"><circle class="r10" cx="194" cy="682" r="13"/><text class="nl" x="194" y="686">3</text></g>
<g id="r10c16"><circle class="r10" cx="229" cy="682" r="9"/><text class="nl" x="229" y="686">16</text></g>
<g id="r10c17"><circle class="r10" cx="299" cy="682" r="9"/><text class="nl" x="299" y="686">17</text></g>
<g id="r10c6"><circle class="r10" cx="334" cy="682" r="13"/><text class="nl" x="334" y="686">6</text></g>
<g id="r10c8"><circle class="r10" cx="369" cy="682" r="12"/><text class="nl" x="369" y="686">8</text></g>
<g id="r10c9"><circle class="r10" cx="404" cy="682" r="11"/><text class="nl" x="404" y="686">9</text></g>
<g id="r10c12"><circle class="r10" cx="439" cy="682" r="11"/><text class="nl" x="439" y="686">12</text></g>
<g id="r10c1"><circle class="r10" cx="508" cy="682" r="15"/><text class="nl" x="508" y="686">1</text></g>
<g id="r10c2"><circle class="r10" cx="544" cy="682" r="13"/><text class="nl" x="544" y="686">2</text></g>
<g id="r10c18"><circle class="r10" cx="579" cy="682" r="8"/><text class="nl" x="579" y="686">18</text></g>
<g id="r10c7"><circle class="r10" cx="649" cy="682" r="12"/><text class="nl" x="649" y="686">7</text></g>
<g id="r10c5"><circle class="r10" cx="683" cy="682" r="13"/><text class="nl" x="683" y="686">5</text></g>
<g id="r10c11"><circle class="r10" cx="753" cy="682" r="11"/><text class="nl" x="753" y="686">11</text></g>
<g id="r10c13"><circle class="r10" cx="788" cy="682" r="10"/><text class="nl" x="788" y="686">13</text></g>
<g id="r10c15"><circle class="r10" cx="858" cy="682" r="10"/><text class="nl" x="858" y="686">15</text></g>
<g id="r10c19"><circle class="r10" cx="998" cy="682" r="7"/><text class="nl" x="998" y="686">19</text></g>
<g id="r10c20"><circle class="r10" cx="1033" cy="682" r="6"/><text class="nl" x="1033" y="686">20</text></g>
</g>
<g id="legend-alpha" fill="none" stroke-width="1">
<g stroke="#7F7F7F"><path d="M1106,12 H1123"/><path d="M1117,8.5 L1123,12 L1117,15.5"/></g>
<g stroke="#404040"><path d="M1106,34 H1123"/><path d="M1117,30.5 L1123,34 L1117,37.5"/></g>
<g stroke="#000"><path d="M1106,57 H1123"/><path d="M1117,53.5 L1123,57 L1117,60.5"/></g>
</g>
<g id="legend-alpha-labels">
<text class="lg" x="1134" y="16">0.50</text>
<text class="lg" x="1134" y="38">0.75</text>
<text class="lg" x="1134" y="61">1.00</text>
</g>
<g id="legend-size">
<text class="lt" x="1104" y="111">size</text>
<circle cx="1131" cy="135" r="12.5" fill="#000"/>
<circle cx="1131" cy="170" r="14.7" fill="#000"/>
<circle cx="1131" cy="212" r="17" fill="#000"/>
<circle cx="1131" cy="259" r="18.7" fill="#000"/>
<circle cx="1131" cy="311" r="20.3" fill="#000"/>
<text class="lg" x="1165" y="140">1000</text>
<text class="lg" x="1165" y="175">2000</text>
<text class="lg" x="1165" y="217">3000</text>
<text class="lg" x="1165" y="264">4000</text>
<text class="lg" x="1165" y="316">5000</text>
</g>
<g id="legend-count">
<text class="lt" x="1104" y="382">count</text>
<rect x="1104" y="389" width="23" height="116" fill="url(#vir)"/>
<path d="M1104,406h4M1123,406h4M1104,426.5h4M1123,426.5h4M1104,447h4M1123,447h4M1104,467.5h4M1123,467.5h4M1104,488h4M1123,488h4" stroke="#fff" stroke-width="1"/>
<text class="lg" x="1134" y="410">5000</text>
<text class="lg" x="1134" y="430.5">4000</text>
<text class="lg" x="1134" y="451">3000</text>
<text class="lg" x="1134" y="471.5">2000</text>
<text class="lg" x="1134" y="492">1000</text>
</g>
<g id="legend-res">
<text class="lt" x="1104" y="553">RNA_snn_res.</text>
<circle cx="1116" cy="569" r="2.5" fill="#F8766D"/>
<circle cx="1116" cy="592" r="2.5" fill="#D89000"/>
<circle cx="1116" cy="615" r="2.5" fill="#A3A500"/>
<circle cx="1116" cy="638" r="2.5" fill="#39B600"/>
<circle cx="1116" cy="661" r="2.5" fill="#00BF7D"/>
<circle cx="1116" cy="684" r="2.5" fill="#00BFC4"/>
<circle cx="1116" cy="707" r="2.5" fill="#00B0F6"/>
<text class="lg" x="1134" y="573">0.1</text>
<text class="lg" x="1134" y="596">0.2</text>
<text class="lg" x="1134" y="619">0.3</text>
<text class="lg" x="1134" y="642">0.4</text>
<text class="lg" x="1134" y="665">0.5</text>
<text class="lg" x="1134" y="688">0.6</text>
<text class="lg" x="1134" y="711">0.7</text>
</g>
</svg>
